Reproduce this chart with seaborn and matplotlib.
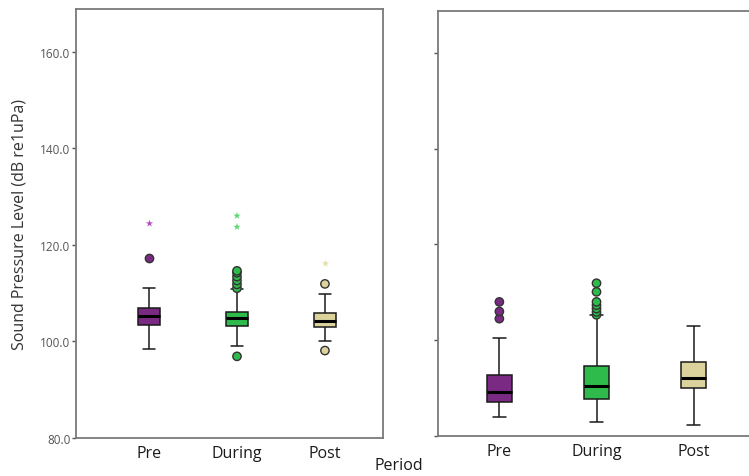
import numpy as np
import pandas as pd
import matplotlib
matplotlib.use("Agg")
import matplotlib.pyplot as plt
import seaborn as sns

periods = ["Pre", "During", "Post"]
colors = ["#7B2A83", "#2EBB4C", "#DCD39C"]
star_colors = ["#B24FBF", "#5AD870", "#E6DFA8"]

# five-number summaries (whisker low, Q1, median, Q3, whisker high)
left_stats = {
    "Pre":    [98.4, 103.4, 105.3, 107.0, 111.1],
    "During": [99.1, 103.1, 104.8, 106.1, 110.8],
    "Post":   [100.0, 102.9, 104.3, 105.9, 109.9],
}
right_stats = {
    "Pre":    [83.9, 87.2, 89.2, 92.8, 100.4],
    "During": [83.0, 87.7, 90.5, 94.6, 105.2],
    "Post":   [82.3, 90.0, 92.2, 95.4, 103.0],
}
# outliers (circles) and extremes (stars)
left_out = {
    "Pre":    [117.2],
    "During": [96.9, 111.0, 111.8, 112.6, 113.4, 114.2, 114.6],
    "Post":   [98.1, 111.9],
}
left_ext = {"Pre": [124.6], "During": [123.7, 126.0], "Post": [116.2]}
right_out = {
    "Pre":    [104.5, 106.0, 108.0],
    "During": [105.3, 105.9, 106.6, 107.3, 108.0, 110.1, 111.9],
    "Post":   [],
}
right_ext = {"Pre": [], "During": [], "Post": []}

yticks = [80.0, 100.0, 120.0, 140.0, 160.0]

sns.set_theme(style="white")
plt.rcParams["font.family"] = ["Open Sans", "DejaVu Sans"]

fig = plt.figure(figsize=(7.49, 4.77), dpi=100)
axL = fig.add_axes([76/749, 1-439/477, (383-76)/749, (439-10)/477])
axR = fig.add_axes([437.7/749, 1-437/477, (749-437.7)/749, (437-11.7)/477])

def long(d):
    rows = []
    for k, vals in d.items():
        for v in vals:
            rows.append((k, v))
    return pd.DataFrame(rows, columns=["period", "spl"])

def draw(ax, stats, outs, exts, xlim):
    df = long(stats)
    sns.boxplot(data=df, x="period", y="spl", order=periods, hue="period",
                hue_order=periods, palette=colors, saturation=1, whis=(0, 100),
                width=0.26, linecolor="#1a1a1a", linewidth=1.1, legend=False,
                ax=ax, fliersize=0,
                medianprops=dict(color="black", linewidth=2.2))
    do = long(outs)
    if len(do):
        sns.stripplot(data=do, x="period", y="spl", order=periods, hue="period",
                      hue_order=periods, palette=colors, jitter=False, size=6,
                      linewidth=1.0, edgecolor="#333333", legend=False, ax=ax,
                      zorder=4)
    de = long(exts)
    if len(de):
        sns.stripplot(data=de, x="period", y="spl", order=periods, hue="period",
                      hue_order=periods, palette=star_colors, jitter=False,
                      size=5.5, marker="*", linewidth=0, legend=False, ax=ax,
                      zorder=4)
    ax.set_xlim(*xlim)
    ax.set_ylim(80, 168.8)
    ax.set_yticks(yticks)
    ax.set_xlabel("")
    ax.set_ylabel("")
    for s in ax.spines.values():
        s.set_color("#7a7a7a")
        s.set_linewidth(1.3)
    ax.tick_params(axis="x", length=0, labelsize=11.5, pad=5, labelcolor="#1a1a1a")
    ax.tick_params(axis="y", direction="out", length=3, width=1, color="#555555",
                   left=True, labelsize=8.5, labelcolor="#555555", pad=1)

draw(axL, left_stats, left_out, left_ext, (-0.83, 2.66))
draw(axR, right_stats, right_out, right_ext, (-0.635, 2.57))

axL.set_yticklabels([f"{v:.1f}" for v in yticks])
axL.set_ylabel("Sound Pressure Level (dB re1uPa)", fontsize=11.5, color="#333333", labelpad=9)
axR.set_yticklabels([])
axR.spines["right"].set_visible(False)

fig.text(399/749, 1-466/477, "Period", ha="center", va="center", fontsize=11.5, color="#1a1a1a")

fig.savefig("out.png", dpi=100)
